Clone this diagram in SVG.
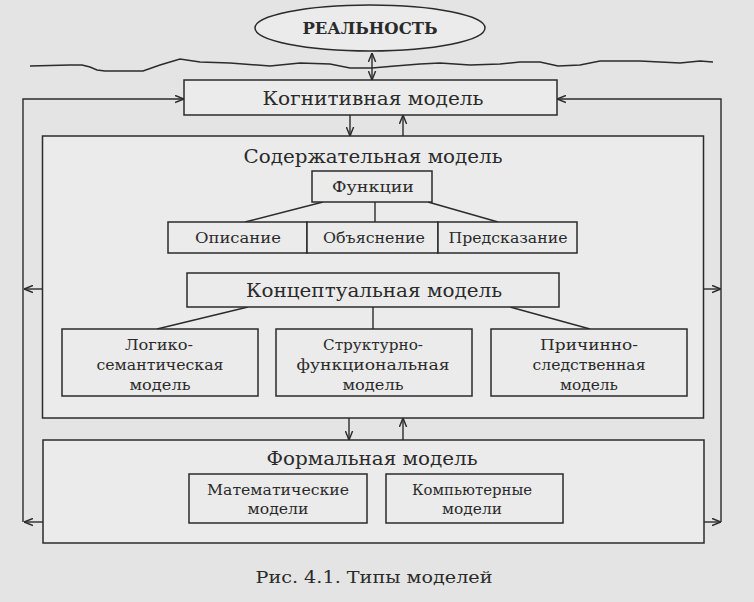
<svg xmlns="http://www.w3.org/2000/svg" width="754" height="602" viewBox="0 0 754 602">
<style>
  .bx{fill:#ebebeb;stroke:#2b2b2b;stroke-width:1.5}
  .ln{fill:none;stroke:#2b2b2b;stroke-width:1.4}
  .t{font-family:"DejaVu Serif","Liberation Serif",serif;fill:#2a2a2a;text-anchor:middle;dominant-baseline:central}
  .h{font-size:19px}
  .m{font-size:15px}
  .s{font-size:14px}
</style>
<defs>
  <marker id="arr" viewBox="0 0 10 10" refX="10" refY="5" markerWidth="9" markerHeight="9" orient="auto-start-reverse" markerUnits="userSpaceOnUse">
    <path d="M0,1 L10,5 L0,9" fill="none" stroke="#2b2b2b" stroke-width="1.6"/>
  </marker>
</defs>
<rect x="0" y="0" width="754" height="602" fill="#e4e4e4"/>

<path class="ln" d="M30,66 L70,65 L82,65 L90,67 L97,70 L105,71 L143,71 L160,65 L180,59 L200,62 L230,63 L270,66 L300,63 L330,64 L350,68 L372,68 L395,66 L420,64 L440,63 L470,65 L500,64 L520,62 L540,62 L558,66 L580,65 L600,61 L640,61 L680,63 L700,61 L713,62"/>

<g id="connectors">
  <line class="ln" x1="372" y1="53" x2="372" y2="80" marker-start="url(#arr)" marker-end="url(#arr)"/>
  <path class="ln" d="M23,522 V99 H184" marker-end="url(#arr)"/>
  <path class="ln" d="M42,289 H24" marker-end="url(#arr)"/>
  <path class="ln" d="M43,522 H24" marker-end="url(#arr)"/>
  <path class="ln" d="M721,522 V99 H557" marker-end="url(#arr)"/>
  <path class="ln" d="M703,289 H721" marker-end="url(#arr)"/>
  <path class="ln" d="M704,522 H721" marker-end="url(#arr)"/>
  <line class="ln" x1="350" y1="115" x2="350" y2="136" marker-end="url(#arr)"/>
  <line class="ln" x1="403" y1="136" x2="403" y2="115" marker-end="url(#arr)"/>
  <line class="ln" x1="349" y1="418" x2="349" y2="440" marker-end="url(#arr)"/>
  <line class="ln" x1="403" y1="440" x2="403" y2="418" marker-end="url(#arr)"/>
</g>

<g id="reality">
  <ellipse cx="370" cy="28" rx="115" ry="23" class="bx"/>
  <text class="t" x="370" y="28" font-size="17" font-weight="bold" textLength="135" lengthAdjust="spacingAndGlyphs">РЕАЛЬНОСТЬ</text>
</g>

<g id="cognitive">
  <rect class="bx" x="184" y="80" width="373" height="35"/>
  <text class="t h" x="373" y="98" textLength="221" lengthAdjust="spacingAndGlyphs">Когнитивная модель</text>
</g>

<g id="content">
  <rect class="bx" x="42.5" y="136" width="661" height="282"/>
  <text class="t h" x="373" y="156" textLength="259" lengthAdjust="spacingAndGlyphs">Содержательная модель</text>
</g>

<g id="tree-lines">
  <line class="ln" x1="323" y1="202" x2="245" y2="222"/>
  <line class="ln" x1="375" y1="202" x2="375" y2="222"/>
  <line class="ln" x1="428" y1="202" x2="498" y2="222"/>
  <line class="ln" x1="248" y1="307" x2="157" y2="329"/>
  <line class="ln" x1="373" y1="307" x2="373" y2="329"/>
  <line class="ln" x1="510" y1="307" x2="590" y2="329"/>
</g>

<g id="functions">
  <rect class="bx" x="312" y="171" width="120" height="31"/>
  <text class="t m" x="373" y="187" textLength="82" lengthAdjust="spacingAndGlyphs">Функции</text>
</g>

<g id="description">
  <rect class="bx" x="168" y="222" width="139" height="31"/>
  <text class="t m" x="238" y="238" textLength="86" lengthAdjust="spacingAndGlyphs">Описание</text>
</g>
<g id="explanation">
  <rect class="bx" x="307" y="222" width="131" height="31"/>
  <text class="t m" x="374" y="238" textLength="102" lengthAdjust="spacingAndGlyphs">Объяснение</text>
</g>
<g id="prediction">
  <rect class="bx" x="438" y="222" width="139" height="31"/>
  <text class="t m" x="508" y="238" textLength="119" lengthAdjust="spacingAndGlyphs">Предсказание</text>
</g>

<g id="conceptual">
  <rect class="bx" x="187" y="273" width="372" height="34"/>
  <text class="t h" x="374" y="290" textLength="256" lengthAdjust="spacingAndGlyphs">Концептуальная модель</text>
</g>

<g id="logical">
  <rect class="bx" x="62" y="329" width="196" height="67"/>
  <text class="t s" x="159" y="345" textLength="68" lengthAdjust="spacingAndGlyphs">Логико-</text>
  <text class="t s" x="160" y="365" textLength="127" lengthAdjust="spacingAndGlyphs">семантическая</text>
  <text class="t s" x="160" y="385" textLength="61" lengthAdjust="spacingAndGlyphs">модель</text>
</g>
<g id="structural">
  <rect class="bx" x="276" y="329" width="196" height="67"/>
  <text class="t s" x="373" y="345" textLength="100" lengthAdjust="spacingAndGlyphs">Структурно-</text>
  <text class="t s" x="373" y="365" textLength="153" lengthAdjust="spacingAndGlyphs">функциональная</text>
  <text class="t s" x="373" y="385" textLength="61" lengthAdjust="spacingAndGlyphs">модель</text>
</g>
<g id="causal">
  <rect class="bx" x="491" y="329" width="196" height="67"/>
  <text class="t s" x="589" y="345" textLength="98" lengthAdjust="spacingAndGlyphs">Причинно-</text>
  <text class="t s" x="589" y="365" textLength="113" lengthAdjust="spacingAndGlyphs">следственная</text>
  <text class="t s" x="589" y="385" textLength="58" lengthAdjust="spacingAndGlyphs">модель</text>
</g>

<g id="formal">
  <rect class="bx" x="43" y="440" width="661" height="103"/>
  <text class="t h" x="372" y="458" textLength="211" lengthAdjust="spacingAndGlyphs">Формальная модель</text>
</g>

<g id="mathematical">
  <rect class="bx" x="189" y="474" width="178" height="49"/>
  <text class="t s" x="278" y="490" textLength="142" lengthAdjust="spacingAndGlyphs">Математические</text>
  <text class="t s" x="278" y="509" textLength="61" lengthAdjust="spacingAndGlyphs">модели</text>
</g>
<g id="computer">
  <rect class="bx" x="386" y="474" width="177" height="49"/>
  <text class="t s" x="472" y="490" textLength="120" lengthAdjust="spacingAndGlyphs">Компьютерные</text>
  <text class="t s" x="472" y="509" textLength="60" lengthAdjust="spacingAndGlyphs">модели</text>
</g>

<text class="t" x="374" y="577" font-size="17" textLength="237" lengthAdjust="spacingAndGlyphs">Рис. 4.1. Типы моделей</text>
</svg>
